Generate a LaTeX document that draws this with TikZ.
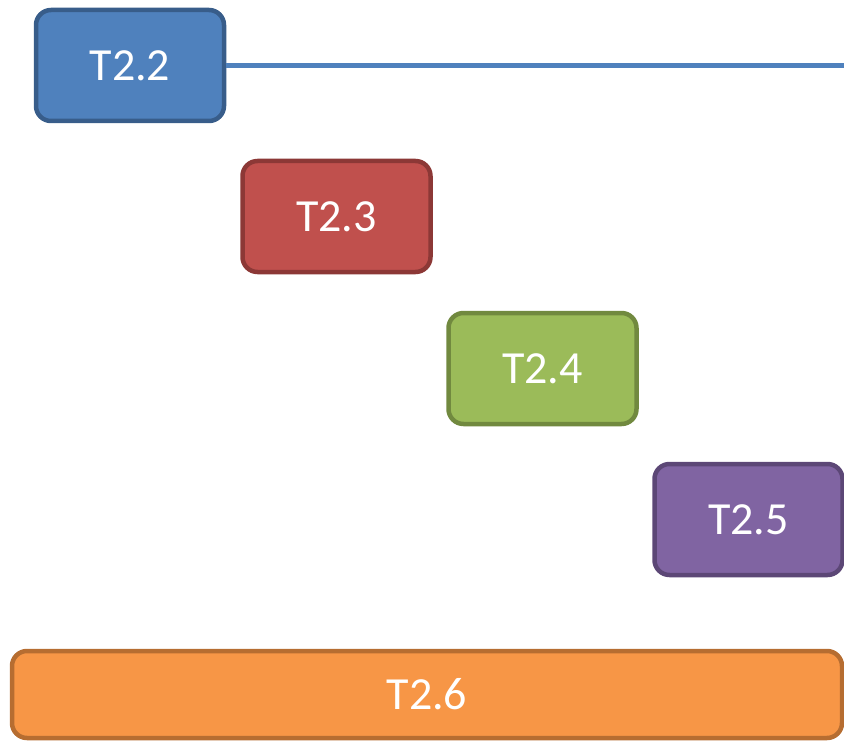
\documentclass[tikz,border=0pt]{standalone}
\usepackage{fontspec}
\setmainfont{Carlito}
\usepackage{tikz}
\definecolor{tblue}{HTML}{4F81BD}
\definecolor{tbluedk}{HTML}{385D8A}
\definecolor{tred}{HTML}{C0504D}
\definecolor{treddk}{HTML}{8C3836}
\definecolor{tgreen}{HTML}{9BBB59}
\definecolor{tgreendk}{HTML}{71893F}
\definecolor{tpurple}{HTML}{8064A2}
\definecolor{tpurpledk}{HTML}{5C4776}
\definecolor{torange}{HTML}{F79646}
\definecolor{torangedk}{HTML}{B66D31}
\tikzstyle{task}=[draw,rounded corners=15pt,line width=4.5pt,inner sep=0pt,
  minimum width=188pt,minimum height=111pt,text=white,font=\fontsize{46}{50}\selectfont]
\tikzstyle{c1}=[fill=tblue,draw=tbluedk]
\tikzstyle{c2}=[fill=tred,draw=treddk]
\tikzstyle{c3}=[fill=tgreen,draw=tgreendk]
\tikzstyle{c4}=[fill=tpurple,draw=tpurpledk]
\tikzstyle{c5}=[fill=torange,draw=torangedk]
\tikzstyle{bar}=[color=tblue,line width=5pt]

\begin{document}
\begin{tikzpicture}[x=1pt,y=-1pt]
\useasboundingbox (0,0) rectangle (844,741);
\foreach \place/\name/\col in
{ {(130,65.5)/2/c1}, {(336.5,216.5)/3/c2}, {(542.5,368.5)/4/c3}, {(748.5,519.5)/5/c4}}
    \node[task,\col] (t\name) at \place {T2.\name};
\node[task,c5,minimum width=830pt,minimum height=87pt] (t6) at (427,694.5) {T2.6};
\coordinate (end) at (844,65.5);
\draw[bar] (t2) -- (end);
\end{tikzpicture}
\end{document}
